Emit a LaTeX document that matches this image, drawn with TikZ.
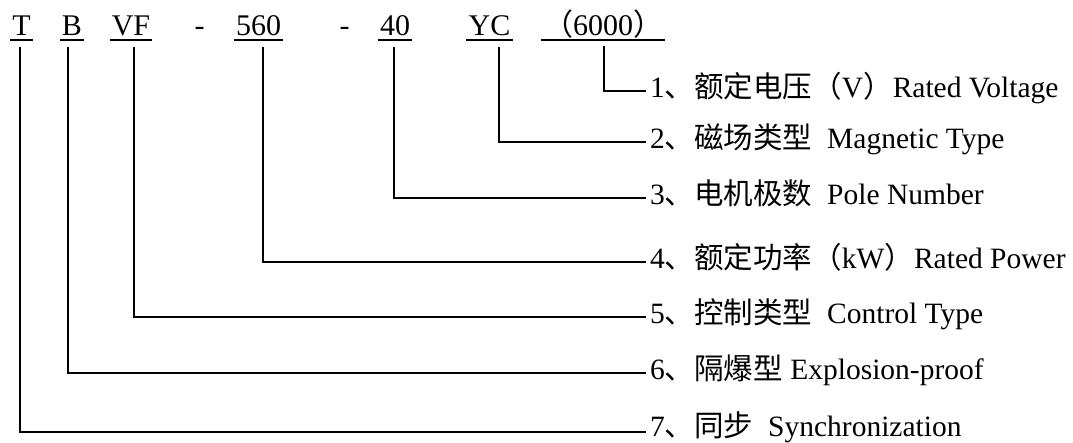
\documentclass[tikz,border=0pt]{standalone}
\usepackage{fontspec}
\setmainfont{Liberation Serif}
\newfontfamily\cjk{Noto Sans CJK SC}
\newcommand{\zh}[1]{{\cjk #1}}
\begin{document}
\begin{tikzpicture}[x=1pt,y=-1pt,
  code/.style={font=\fontsize{30}{36}\selectfont, inner xsep=2pt, inner ysep=0pt, anchor=base},
  lbl/.style={font=\fontsize{29.5}{36}\selectfont, inner sep=0pt, anchor=base west},
  ln/.style={line width=1.7pt},
  ul/.style={line width=1.7pt}]
\useasboundingbox (0,0) rectangle (1073,442);
% top code row
\node[code] (cT)  at (21.5,35) {T};
\node[code] (cB)  at (72,35) {B};
\node[code] (cVF) at (131,35) {VF};
\node[code] (d1)  at (199.5,35) {-};
\node[code] (c560) at (258.5,35) {560};
\node[code] (d2)  at (344.5,35) {-};
\node[code] (c40) at (395,35) {40};
\node[code] (cYC) at (489.5,35) {YC};
\node[code] (cV)  at (603,35) {\zh{（}6000\zh{）}};
\foreach \n in {cT,cB,cVF,c560,c40,cYC,cV}
  \draw[ul] ([yshift=-5pt]\n.base west) -- ([yshift=-5pt]\n.base east);
% vertical starts
\coordinate (sV) at (604,46);
\coordinate (sYC) at (499,47);
\coordinate (s40) at (394,47);
\coordinate (s560) at (263,47);
\coordinate (sVF) at (134,47);
\coordinate (sB) at (68,47);
\coordinate (sT) at (20,47);
% labels
\node[lbl] (l1) at (650,97) {1\zh{、额定电压（}V\zh{）}Rated Voltage};
\node[lbl] (l2) at (650,148) {2\zh{、磁场类型}\hspace{0.5em}Magnetic Type};
\node[lbl] (l3) at (650,204) {3\zh{、电机极数}\hspace{0.5em}Pole Number};
\node[lbl] (l4) at (650,268) {4\zh{、额定功率（}kW\zh{）}Rated Power};
\node[lbl] (l5) at (650,323) {5\zh{、控制类型}\hspace{0.5em}Control Type};
\node[lbl] (l6) at (650,379) {6\zh{、隔爆型} Explosion-proof};
\node[lbl] (l7) at (650,436) {7\zh{、同步}\hspace{0.5em}Synchronization};
% connectors
\draw[ln] (sV) |- ([xshift=-4pt,yshift=6pt]l1.base west);
\draw[ln] (sYC) |- ([xshift=-4pt,yshift=6pt]l2.base west);
\draw[ln] (s40) |- ([xshift=-4pt,yshift=6pt]l3.base west);
\draw[ln] (s560) |- ([xshift=-4pt,yshift=6pt]l4.base west);
\draw[ln] (sVF) |- ([xshift=-4pt,yshift=6pt]l5.base west);
\draw[ln] (sB) |- ([xshift=-4pt,yshift=6pt]l6.base west);
\draw[ln] (sT) |- ([xshift=-4pt,yshift=4pt]l7.base west);
\end{tikzpicture}
\end{document}
